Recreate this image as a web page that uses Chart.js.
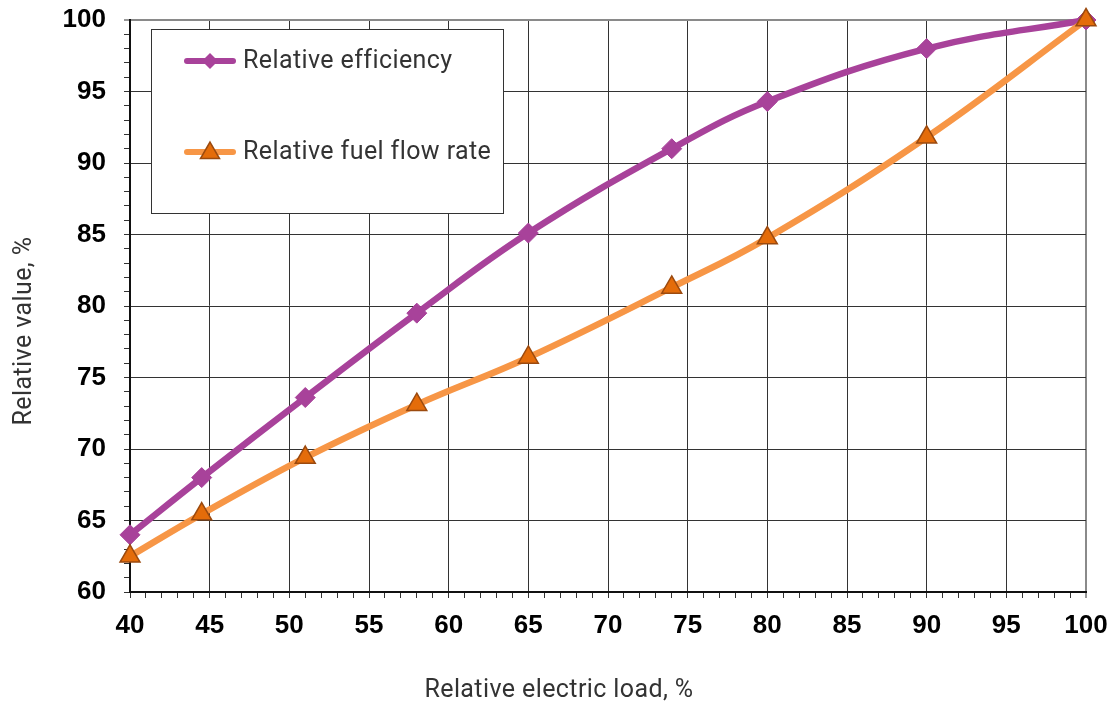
<!DOCTYPE html>
<html><head><meta charset="utf-8">
<script src="https://cdn.jsdelivr.net/npm/chart.js@4/dist/chart.umd.min.js"></script>
<style>html,body{margin:0;padding:0;background:#fff}#wrap{width:1115px;height:709px;position:relative}</style>
</head><body><div id="wrap"><canvas id="c" width="1115" height="709"></canvas></div>
<script>
const loadX = [40, 44.5, 51, 58, 65, 74, 80, 90, 100];
const efficiency = [64.0, 68.0, 73.6, 79.5, 85.1, 91.0, 94.3, 98.0, 100];
const fuelFlow = [62.5, 65.45, 69.4, 73.1, 76.4, 81.3, 84.75, 91.8, 100];
const xTickLabels = [40, 45, 50, 55, 60, 65, 70, 75, 80, 85, 90, 95, 100];
const yTickLabels = [60, 65, 70, 75, 80, 85, 90, 95, 100];
const seriesNames = ['Relative efficiency', 'Relative fuel flow rate'];
const xTitle = 'Relative electric load, %';
const yTitle = 'Relative value, %';

const PURPLE = '#A8429A', ORANGE = '#F79646', TRI_FILL = '#E46C0A', TRI_EDGE = '#9B4A0F';
const TEXT_FONT = 'Roboto, "DejaVu Sans", sans-serif';

function toPts(ys) { return loadX.map((x, i) => ({x: x, y: ys[i]})); }

function drawDiamond(ctx, x, y, r, fill) {
  ctx.beginPath();
  ctx.moveTo(x, y - r); ctx.lineTo(x + r, y); ctx.lineTo(x, y + r); ctx.lineTo(x - r, y); ctx.closePath();
  ctx.fillStyle = fill; ctx.fill();
}
function drawTriangle(ctx, x, y, r, fill, edge, w) {
  ctx.beginPath();
  for (let k = 0; k < 3; k++) {
    const a = k * 2 * Math.PI / 3;
    const px = x + Math.sin(a) * r, py = y - Math.cos(a) * r;
    if (k === 0) ctx.moveTo(px, py); else ctx.lineTo(px, py);
  }
  ctx.closePath();
  ctx.fillStyle = fill; ctx.fill();
  ctx.lineWidth = w; ctx.strokeStyle = edge; ctx.stroke();
}

const extras = {
  id: 'extras',
  afterDatasetsDraw(chart) {
    const ctx = chart.ctx;
    ctx.save();
    ctx.fillStyle = '#fff';
    ctx.fillRect(151, 29, 352, 184);
    ctx.strokeStyle = '#333'; ctx.lineWidth = 1;
    ctx.strokeRect(151.5, 29.5, 352, 184);
    const rows = [61, 152];
    chart.data.datasets.forEach((ds, i) => {
      const y = rows[i];
      ctx.beginPath(); ctx.moveTo(187, y); ctx.lineTo(233, y);
      ctx.lineWidth = 6; ctx.lineCap = 'round'; ctx.strokeStyle = ds.borderColor; ctx.stroke();
      if (i === 0) drawDiamond(ctx, 210, y, 8, PURPLE);
      else drawTriangle(ctx, 210, y + 1, 11, TRI_FILL, TRI_EDGE, 1.5);
      ctx.fillStyle = '#333'; ctx.font = '25px ' + TEXT_FONT;
      if ('letterSpacing' in ctx) ctx.letterSpacing = '0.4px';
      ctx.textAlign = 'left'; ctx.textBaseline = 'middle';
      ctx.fillText(ds.label, 243, y + 1);
    });
    ctx.fillStyle = '#333'; ctx.font = '25px ' + TEXT_FONT;
    if ('letterSpacing' in ctx) ctx.letterSpacing = '0.4px';
    ctx.textAlign = 'center'; ctx.textBaseline = 'middle';
    ctx.fillText(xTitle, 559, 691);
    ctx.translate(25, 331); ctx.rotate(-Math.PI / 2);
    ctx.fillText(yTitle, 0, 0);
    ctx.restore();
  }
};

function gridColor(c) {
  const v = Math.round(c.tick.value);
  if (v === 100) return '#8a8a8a';
  return v % 5 === 0 ? '#333' : 'rgba(0,0,0,0)';
}
function gridWidth(c) { return Math.round(c.tick.value) === 100 ? 2 : 1; }

new Chart(document.getElementById('c'), {
  type: 'line',
  data: {
    datasets: [
      { label: seriesNames[0], data: toPts(efficiency), borderColor: PURPLE, backgroundColor: PURPLE,
        borderWidth: 6.5, tension: 0.4, pointStyle: 'rectRot', pointRadius: 10, pointBorderWidth: 1,
        pointBackgroundColor: PURPLE, pointBorderColor: PURPLE, clip: false, order: 2 },
      { label: seriesNames[1], data: toPts(fuelFlow), borderColor: ORANGE, backgroundColor: ORANGE,
        borderWidth: 6.5, tension: 0.4, pointStyle: 'triangle', pointRadius: 11.5, pointBorderWidth: 1.5,
        pointBackgroundColor: TRI_FILL, pointBorderColor: TRI_EDGE, clip: false, order: 1 }
    ]
  },
  options: {
    responsive: false, animation: false, devicePixelRatio: 1,
    layout: { padding: { left: 0, top: 20, right: 29, bottom: 0 } },
    plugins: { legend: { display: false }, tooltip: { enabled: false } },
    scales: {
      x: {
        type: 'linear', min: 40, max: 100,
        afterFit(s) { s.height = 117; s.paddingLeft = 0; s.paddingRight = 0; },
        afterBuildTicks(s) { const t = []; for (let v = 40; v <= 100; v++) t.push({value: v}); s.ticks = t; },
        ticks: { autoSkip: false, maxRotation: 0, padding: 12, color: '#000',
          font: { family: '"Liberation Sans", Arial, sans-serif', size: 26, weight: 'bold' },
          callback: v => xTickLabels.includes(Math.round(v)) ? String(Math.round(v)) : '' },
        grid: { color: gridColor, lineWidth: gridWidth, tickColor: '#333', tickLength: 6, tickWidth: 1 },
        border: { color: '#111', width: 2 }
      },
      y: {
        type: 'linear', min: 60, max: 100,
        afterFit(s) { s.width = 130; s.paddingTop = 0; s.paddingBottom = 0; },
        afterBuildTicks(s) { const t = []; for (let v = 60; v <= 100; v++) t.push({value: v}); s.ticks = t; },
        ticks: { autoSkip: false, padding: 18, color: '#000',
          font: { family: '"Liberation Sans", Arial, sans-serif', size: 26, weight: 'bold' },
          callback: v => yTickLabels.includes(Math.round(v)) ? String(Math.round(v)) : '' },
        grid: { color: gridColor, lineWidth: gridWidth, tickColor: '#333', tickLength: 6, tickWidth: 1 },
        border: { color: '#111', width: 2 }
      }
    }
  },
  plugins: [extras]
});
</script></body></html>
